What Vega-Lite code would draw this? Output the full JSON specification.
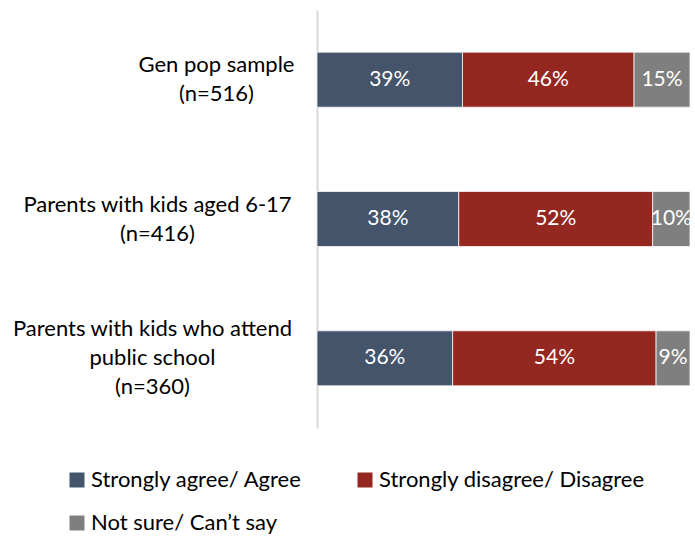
{
  "$schema": "https://vega.github.io/schema/vega-lite/v6.json",
  "width": 373,
  "height": 418,
  "autosize": {"type": "none"},
  "padding": {"left": 317, "top": 10, "right": 5, "bottom": 108},
  "background": "white",
  "config": {"view": {"stroke": null}, "font": "Lato"},
  "data": {
    "values": [
      {"group": "Gen pop sample|(n=516)", "response": "Strongly agree/ Agree", "order": 1, "value": 39, "label": "39%"},
      {"group": "Gen pop sample|(n=516)", "response": "Strongly disagree/ Disagree", "order": 2, "value": 46, "label": "46%"},
      {"group": "Gen pop sample|(n=516)", "response": "Not sure/ Can’t say", "order": 3, "value": 15, "label": "15%"},
      {"group": "Parents with kids aged 6-17|(n=416)", "response": "Strongly agree/ Agree", "order": 1, "value": 38, "label": "38%"},
      {"group": "Parents with kids aged 6-17|(n=416)", "response": "Strongly disagree/ Disagree", "order": 2, "value": 52, "label": "52%"},
      {"group": "Parents with kids aged 6-17|(n=416)", "response": "Not sure/ Can’t say", "order": 3, "value": 10, "label": "10%"},
      {"group": "Parents with kids who attend|public school|(n=360)", "response": "Strongly agree/ Agree", "order": 1, "value": 36, "label": "36%"},
      {"group": "Parents with kids who attend|public school|(n=360)", "response": "Strongly disagree/ Disagree", "order": 2, "value": 54, "label": "54%"},
      {"group": "Parents with kids who attend|public school|(n=360)", "response": "Not sure/ Can’t say", "order": 3, "value": 9, "label": "9%"}
    ]
  },
  "encoding": {
    "y": {
      "field": "group",
      "type": "nominal",
      "sort": null,
      "scale": {"paddingInner": 0.605, "paddingOuter": 0.3025},
      "axis": {
        "title": null,
        "ticks": false,
        "domainColor": "#d9d9d9",
        "domainWidth": 2,
        "labelExpr": "split(datum.label, '|')",
        "labelAlign": "center",
        "labelBaseline": "middle",
        "labelLineHeight": 29,
        "labelFontSize": 22,
        "labelColor": "#000000",
        "labelLimit": 400,
        "labelPadding": {
          "condition": [
            {"test": "indexof(datum.value, 'Gen pop') == 0", "value": 101},
            {"test": "indexof(datum.value, 'aged') >= 0", "value": 160}
          ],
          "value": 165
        },
        "labelOffset": {
          "condition": {"test": "indexof(datum.value, 'public school') >= 0", "value": -29},
          "value": -14.5
        }
      }
    },
    "x": {
      "field": "value",
      "type": "quantitative",
      "stack": "normalize",
      "axis": null
    },
    "order": {"field": "order", "type": "quantitative"}
  },
  "layer": [
    {
      "mark": {"type": "bar", "stroke": "white", "strokeWidth": 0.75},
      "encoding": {
        "color": {
          "field": "response",
          "type": "nominal",
          "sort": ["Strongly agree/ Agree", "Strongly disagree/ Disagree", "Not sure/ Can’t say"],
          "scale": {
            "domain": ["Strongly agree/ Agree", "Strongly disagree/ Disagree", "Not sure/ Can’t say"],
            "range": ["#44546A", "#942720", "#7F7F7F"]
          },
          "legend": {
            "title": null,
            "orient": "none",
            "legendX": -251,
            "legendY": 459,
            "direction": "horizontal",
            "columns": 2,
            "columnPadding": 51,
            "rowPadding": 21,
            "symbolType": "square",
            "symbolSize": 225,
            "symbolStrokeWidth": 0,
            "labelFontSize": 22,
            "labelColor": "#000000",
            "labelLimit": 400,
            "labelOffset": 3
          }
        }
      }
    },
    {
      "mark": {"type": "text", "color": "white", "fontSize": 21, "baseline": "middle", "align": "center"},
      "encoding": {
        "x": {"field": "value", "type": "quantitative", "stack": "normalize", "bandPosition": 0.5},
        "text": {"field": "label", "type": "nominal"}
      }
    }
  ]
}
